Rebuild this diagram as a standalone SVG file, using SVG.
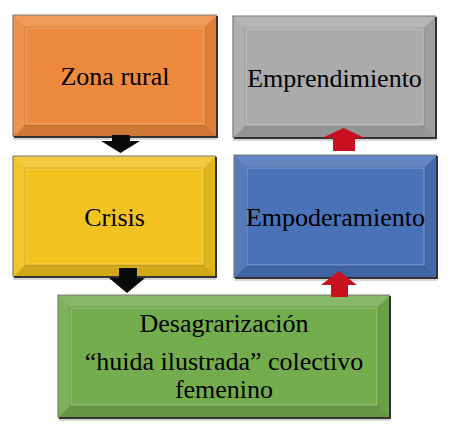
<svg xmlns="http://www.w3.org/2000/svg" width="458" height="431" viewBox="0 0 458 431">
<style>
.lbl{font-family:'Liberation Serif','Times New Roman',Tinos,'DejaVu Serif',serif;font-size:26px;fill:#000;text-anchor:middle}
.hi1{fill:#fff;fill-opacity:.14}
.hi2{fill:#fff;fill-opacity:.07}
.sh1{fill:#000;fill-opacity:.07}
.sh2{fill:#000;fill-opacity:.13}
.inner{fill:none;stroke:#fff;stroke-opacity:.3;stroke-width:1}
.innerD{fill:none;stroke:#000;stroke-opacity:.12;stroke-width:1}
.edgeTL{fill:none;stroke:#7a7a7a;stroke-width:1.2}
.edgeBR{fill:none;stroke:#333;stroke-width:2}
.refl{fill:none;stroke:#c8c8c8;stroke-width:1.5}
.blk{fill:#0a0a0a}
.red{fill:#C8101E}
</style>
<rect width="458" height="431" fill="#fff"/>

<g id="node-zona-rural">
<rect x="13" y="15" width="204" height="122" fill="#EE8A3E"/>
<polygon class="hi1" points="13,15 217,15 205,27 25,27"/>
<polygon class="hi2" points="13,15 25,27 25,125 13,137"/>
<polygon class="sh1" points="217,15 217,137 205,125 205,27"/>
<polygon class="sh2" points="13,137 25,125 205,125 217,137"/>
<rect class="inner" x="26" y="28" width="178" height="96"/>
<rect class="innerD" x="25" y="27" width="180" height="98"/>
<polyline class="edgeTL" points="13,137 13,15 217,15"/>
<polyline class="edgeBR" points="217,16 217,137 14,137"/>
<line class="refl" x1="13" y1="139" x2="217" y2="139"/>
<text class="lbl" font-family="Liberation Serif, serif" x="115" y="85">Zona rural</text>
</g>

<g id="node-emprendimiento">
<rect x="233" y="16" width="203" height="122" fill="#ABABAB"/>
<polygon class="hi1" points="233,16 436,16 424,28 245,28"/>
<polygon class="hi2" points="233,16 245,28 245,126 233,138"/>
<polygon class="sh1" points="436,16 436,138 424,126 424,28"/>
<polygon class="sh2" points="233,138 245,126 424,126 436,138"/>
<rect class="inner" x="246" y="29" width="177" height="96"/>
<rect class="innerD" x="245" y="28" width="179" height="98"/>
<polyline class="edgeTL" points="233,138 233,16 436,16"/>
<polyline class="edgeBR" points="436,17 436,138 234,138"/>
<line class="refl" x1="233" y1="140" x2="436" y2="140"/>
<text class="lbl" font-family="Liberation Serif, serif" x="334.5" y="87">Emprendimiento</text>
</g>

<g id="node-crisis">
<rect x="13" y="156" width="203" height="121" fill="#F2C21E"/>
<polygon class="hi1" points="13,156 216,156 204,168 25,168"/>
<polygon class="hi2" points="13,156 25,168 25,265 13,277"/>
<polygon class="sh1" points="216,156 216,277 204,265 204,168"/>
<polygon class="sh2" points="13,277 25,265 204,265 216,277"/>
<rect class="inner" x="26" y="169" width="177" height="95"/>
<rect class="innerD" x="25" y="168" width="179" height="97"/>
<polyline class="edgeTL" points="13,277 13,156 216,156"/>
<polyline class="edgeBR" points="216,157 216,277 14,277"/>
<line class="refl" x1="13" y1="279" x2="216" y2="279"/>
<text class="lbl" font-family="Liberation Serif, serif" x="114.5" y="226">Crisis</text>
</g>

<g id="node-empoderamiento">
<rect x="234" y="155" width="203" height="123" fill="#4A72B9"/>
<polygon class="hi1" points="234,155 437,155 425,167 246,167"/>
<polygon class="hi2" points="234,155 246,167 246,266 234,278"/>
<polygon class="sh1" points="437,155 437,278 425,266 425,167"/>
<polygon class="sh2" points="234,278 246,266 425,266 437,278"/>
<rect class="inner" x="247" y="168" width="177" height="97"/>
<rect class="innerD" x="246" y="167" width="179" height="99"/>
<polyline class="edgeTL" points="234,278 234,155 437,155"/>
<polyline class="edgeBR" points="437,156 437,278 235,278"/>
<line class="refl" x1="234" y1="280" x2="437" y2="280"/>
<text class="lbl" font-family="Liberation Serif, serif" x="335.5" y="226">Empoderamiento</text>
</g>

<g id="node-desagrarizacion">
<rect x="58" y="295" width="332" height="123" fill="#73AD4E"/>
<polygon class="hi1" points="58,295 390,295 378,307 70,307"/>
<polygon class="hi2" points="58,295 70,307 70,406 58,418"/>
<polygon class="sh1" points="390,295 390,418 378,406 378,307"/>
<polygon class="sh2" points="58,418 70,406 378,406 390,418"/>
<rect class="inner" x="71" y="308" width="306" height="97"/>
<rect class="innerD" x="70" y="307" width="308" height="99"/>
<polyline class="edgeTL" points="58,418 58,295 390,295"/>
<polyline class="edgeBR" points="390,296 390,418 59,418"/>
<line class="refl" x1="58" y1="420" x2="390" y2="420"/>
<text class="lbl" font-family="Liberation Serif, serif" x="224" y="332">Desagrarización</text>
<text class="lbl" font-family="Liberation Serif, serif" x="224" y="370">“huida ilustrada” colectivo</text>
<text class="lbl" font-family="Liberation Serif, serif" x="224" y="398">femenino</text>
</g>

<g id="connectors">
<polygon class="blk" points="112,135 130,135 130,141 140,141 120.5,153 101,141 112,141"/>
<polygon class="blk" points="119,268 137,268 137,278 145,278 127,293 109,278 119,278"/>
<polygon class="red" points="333,151 355,151 355,138 365,138 343.5,128 322,138 333,138"/>
<polygon class="red" points="331,297 348,297 348,285 357,285 339,271 321,285 331,285"/>
</g>
</svg>
